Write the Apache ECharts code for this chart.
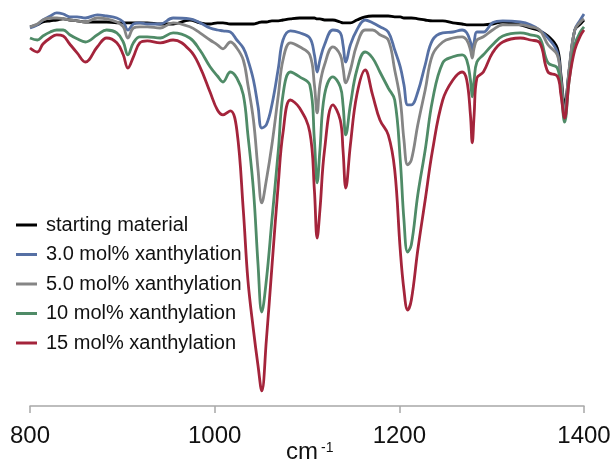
<!DOCTYPE html>
<html>
<head>
<meta charset="utf-8">
<script src="https://cdn.jsdelivr.net/npm/echarts@6/dist/echarts.min.js"></script>
<style>
  html, body { margin: 0; padding: 0; background: #fff; }
  #main { width: 613px; height: 460px; }
</style>
</head>
<body>
<div id="main"></div>
<script>
// wavenumber grid (cm-1), shared by all spectra
var wavenumbers = [800,808,814,822,829,836,843,851,860,873,
  883,894,901,906,912,919,927,941,955,973,
  984,995,1003,1009,1017,1024,1031,1036,1042,1047,
  1051,1056,1062,1069,1074,1082,1092,1103,1108,1111,
  1114,1119,1128,1136,1139,1142,1147,1154,1163,1171,
  1179,1188,1195,1201,1205,1209,1213,1220,1228,1236,
  1247,1258,1268,1273,1277,1279,1281,1284,1291,1301,
  1312,1331,1342,1352,1361,1371,1375,1379,1384,1390,
  1396,1400];

var seriesNames = ['starting material', '3.0 mol% xanthylation', '5.0 mol% xanthylation',
  '10 mol% xanthylation', '15 mol% xanthylation'];

// transmittance (arbitrary %)
var starting = [94.8,95.3,96,96.3,96.5,96.8,96.5,96.3,96,96,
  96,95.8,95.8,95.8,95.8,95.8,95.8,95.5,95.5,96.5,
  95.8,95.5,95.8,95.8,95.5,95.5,95.5,95.5,95.5,95.8,
  96,96,96.3,96.3,96.5,96.8,97,97,97,96.8,
  96.8,96.5,96.5,96,95.8,95.8,95.8,96.5,97.3,97.5,
  97.5,97.5,97.3,97.3,97,97,97,96.8,96.5,96.3,
  96.3,95.8,95.5,95.3,95.3,95.3,95.3,95.3,95.3,95.5,
  96,95.3,94.5,93.8,92.5,89.5,82.8,75.3,84,94,
  95.5,96.5];

var x3 = [94.5,95.3,96.5,97.5,98.3,98,97.3,97.3,97,97.8,
  97.5,97,96,94,95.5,95.8,95.5,95.5,97,96.8,
  95.8,94.5,94,93.8,93.5,91.5,89.5,86.5,81.5,74.8,
  69.5,70.3,75.3,84.5,91.5,93.8,93.3,92,87.8,83.5,
  86.5,90.3,94,93.3,90.3,86,90.3,94,96.5,95.8,
  94.8,93.5,89,84.8,80.3,75.3,75.3,78.5,85.3,91.5,
  93.3,93.5,94,93.3,91,89,91,93.5,93.5,95.8,
  96.3,96,95.3,94,92,88.5,81.5,73.3,84,94,
  96.5,98];

var x5 = [94.8,95.5,96.5,97,97,96.8,96.5,96.3,96,97,
  96.8,96,94.8,92,94.5,94.8,94.8,94.5,95.8,94.8,
  93.3,91.5,90.3,89.3,91,89.5,86.5,80.3,71.5,59,
  50.8,56.5,65.3,77.8,86.5,90.8,89.8,87.8,80.3,73.3,
  80.3,85.3,89.8,87.8,84.5,80.8,84,90.3,94,94,
  92.8,91.5,84,76.5,66.5,60.3,61.5,70.3,79,87.8,
  91,92,92.3,91.5,89,87,89.5,91.5,92.3,94,
  95.3,95.3,94.8,94,90.3,87.8,81.5,73.3,84.5,94,
  96,96.8];

var x10 = [92,91.5,92.5,93.5,94,94,92.8,91.8,91,92.8,
  94,93.3,91,87.8,90.8,92.3,92.3,92,93.3,92,
  89,84.8,82.5,81,83.5,82,77.8,67.8,54,35.3,
  23.5,31.5,46.5,64,77.8,83.5,82.3,80.3,66.5,55.8,
  64,77.8,82.3,79.8,75.3,67.8,75.3,84,88.5,87,
  83.5,79.5,76.5,61.5,46.5,38.5,40.3,52.8,64,76.5,
  85.8,87.3,87.8,86.5,81.5,77.3,81.5,86,87.8,90.3,
  92.5,93.3,92.8,92,85.8,84.5,79,71,81.5,90.3,
  93.5,94.8];

var x15 = [89.5,88.5,90.5,92,92.8,92.5,90.5,88.3,86,89.8,
  92,90.8,87.8,84.5,87.3,90.8,91.3,90.8,91.5,89,
  84.8,78.5,74,72.8,73.8,69,49,31.5,19,10,
  3.8,16.5,34.8,55.8,68.3,76.5,74.5,68.5,54,42,
  49,64,75.3,71.5,64,54.5,65.3,77.8,84,77.8,
  71.5,67.8,59,39,29,24,26.5,39,51.5,64,
  76.5,81.5,83.5,81.5,72.8,65.8,72.8,82,83.5,88.3,
  91,92,91.5,90.8,83.5,82.5,77.8,72,81.5,89,
  92.5,94];

var allValues = [starting, x3, x5, x10, x15];
var lineColors = ['#000000', '#5670a4', '#858585', '#4f8b67', '#a4243b'];

var fontFamily = '"Liberation Sans", Arial, Helvetica, sans-serif';

var myChart = echarts.init(document.getElementById('main'));

var series = allValues.map(function (vals, i) {
  return {
    name: seriesNames[i],
    type: 'line',
    smooth: 0.4,
    symbol: 'none',
    lineStyle: { color: lineColors[i], width: 2.8 },
    itemStyle: { color: lineColors[i] },
    data: wavenumbers.map(function (w, j) { return [w, vals[j]]; })
  };
});

var option = {
  animation: false,
  backgroundColor: '#ffffff',
  grid: { left: 30, right: 29, top: 6, bottom: 54, containLabel: false, outerBoundsMode: 'none' },
  legend: {
    orient: 'vertical',
    left: 11,
    top: 210,
    itemWidth: 21,
    itemHeight: 3,
    itemGap: 9.5,
    icon: 'rect',
    data: seriesNames,
    textStyle: { fontSize: 20, color: '#111', fontFamily: fontFamily, padding: [0, 0, 0, 4] }
  },
  // axis title cm^-1 (superscript drawn as a second small text)
  graphic: [
    {
      type: 'text', left: 286, top: 440,
      style: { text: 'cm', fontSize: 24, fontFamily: fontFamily, fill: '#111' }
    },
    {
      type: 'text', left: 321, top: 441,
      style: { text: '-1', fontSize: 14, fontFamily: fontFamily, fill: '#111' }
    }
  ],
  xAxis: {
    type: 'value',
    min: 800,
    max: 1400,
    interval: 200,
    axisLine: { lineStyle: { color: '#a8a8a8', width: 1.5 } },
    axisTick: { show: true, length: 7, lineStyle: { color: '#a8a8a8', width: 1.5 } },
    axisLabel: {
      fontSize: 24, color: '#111', margin: 18, fontFamily: fontFamily,
      formatter: function (v) { return String(v); }
    },
    splitLine: { show: false }
  },
  yAxis: {
    type: 'value',
    min: 0,
    max: 100,
    show: false,
    splitLine: { show: false }
  },
  series: series
};

myChart.setOption(option);
</script>
</body>
</html>
